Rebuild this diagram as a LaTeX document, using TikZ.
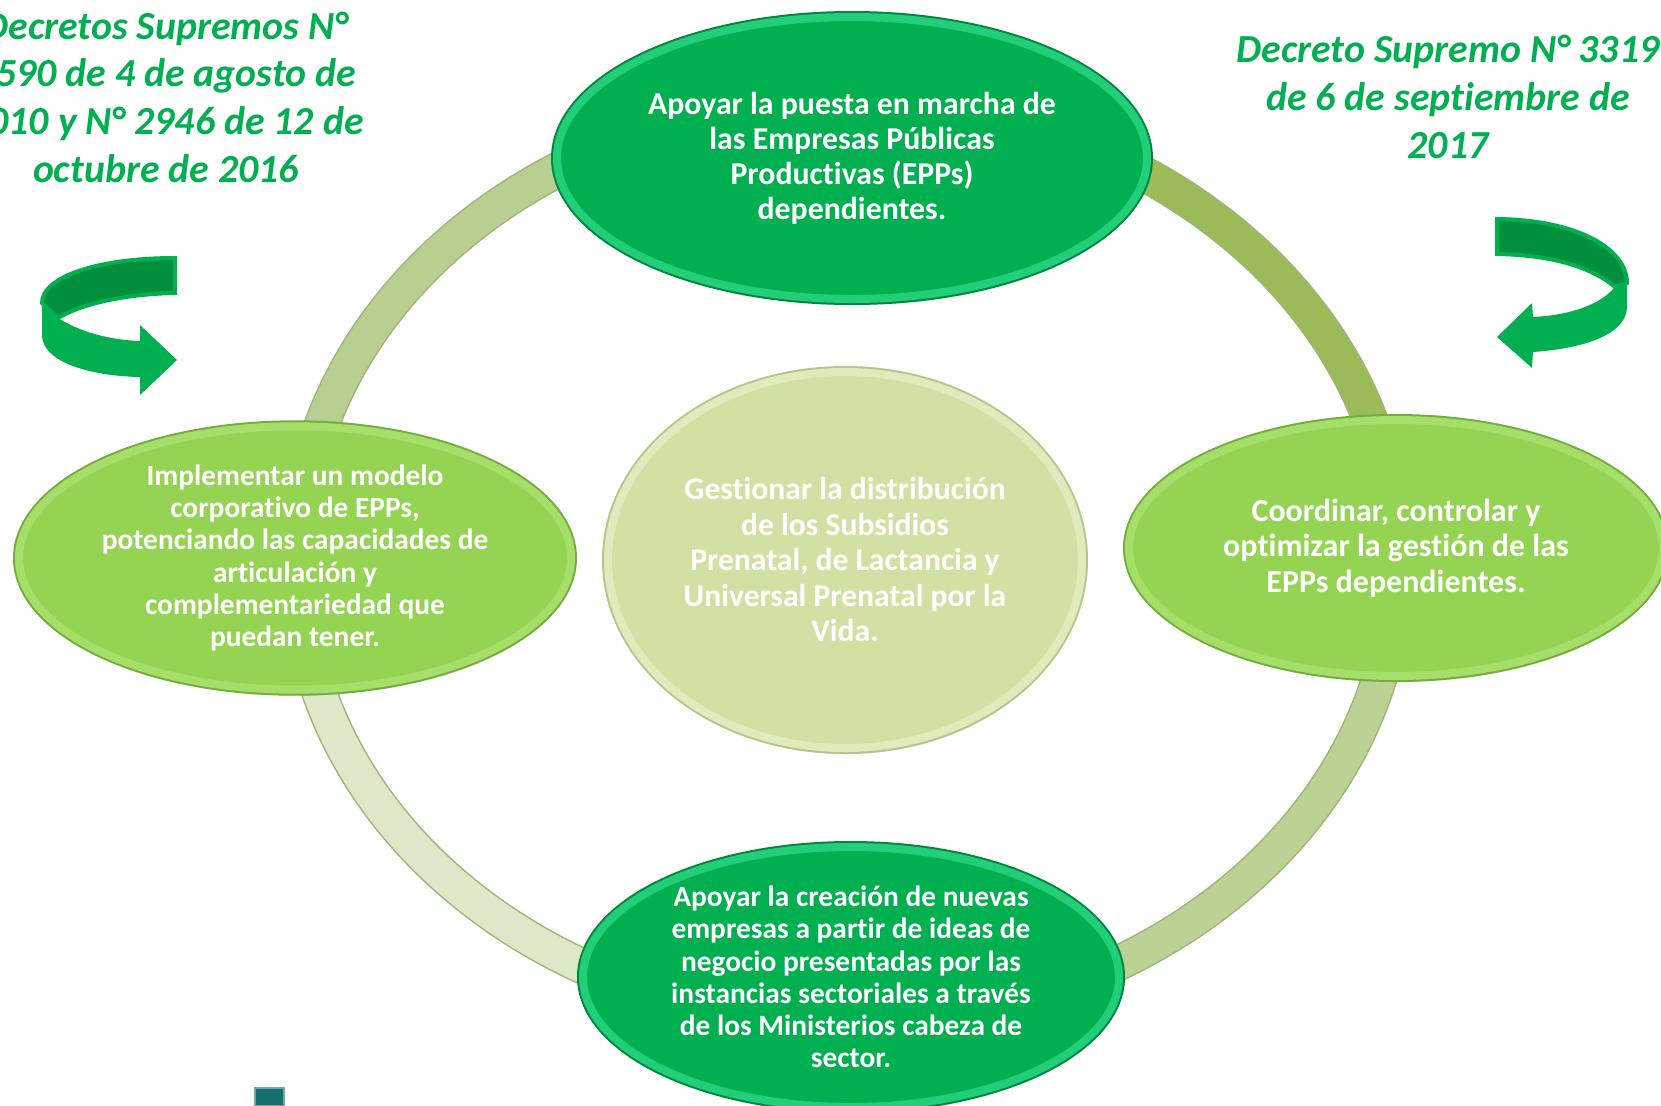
\documentclass[tikz,border=0pt]{standalone}
\usepackage{fontspec}
\setmainfont{Carlito}[Ligatures=NoCommon]
\usetikzlibrary{shapes.geometric,shadows}

\definecolor{epgreen}{HTML}{00B050}
\definecolor{epdark}{HTML}{00873D}
\definecolor{eprim}{HTML}{22CF78}
\definecolor{lime}{HTML}{94D452}
\definecolor{limedark}{HTML}{73AE3C}
\definecolor{limerim}{HTML}{A6DE6A}
\definecolor{sage}{HTML}{D0E1A3}
\definecolor{sagedark}{HTML}{B3C788}
\definecolor{sagerim}{HTML}{DEEBBD}
\definecolor{ringUL}{HTML}{B9CF91}
\definecolor{ringUR}{HTML}{9BBB59}
\definecolor{ringLR}{HTML}{BCD194}
\definecolor{ringLL}{HTML}{DDE8C9}
\definecolor{ringedge}{HTML}{9DB575}
\definecolor{backstrip}{HTML}{008F3D}
\definecolor{sqteal}{HTML}{13706D}

\begin{document}
\begin{tikzpicture}[x=0.5pt,y=-0.5pt,
    goal node/.style={ellipse,inner sep=0pt,align=center,text=white,
      drop shadow={shadow xshift=1pt,shadow yshift=-3pt,opacity=0.25}},
    dark node/.style={goal node,fill=epgreen,draw=eprim,line width=4pt,
      preaction={draw=epdark,line width=6pt}},
    light node/.style={goal node,fill=lime,draw=limerim,line width=4pt,
      preaction={draw=limedark,line width=6pt}},
    hub node/.style={goal node,fill=sage,draw=sagerim,line width=4pt,
      preaction={draw=sagedark,line width=6pt}},
    decree/.style={align=center,text=epgreen,inner sep=0pt,
      font=\fontsize{19.9}{23.85}\selectfont\bfseries\itshape},
    ring arc/.style={line width=16.5pt,preaction={draw=ringedge,line width=18pt}}]
    \useasboundingbox (0,0) rectangle (1661,1105);
    \clip (0,0) rectangle (1661,1105);

    % ring behind the ellipses
    \coordinate (hub) at (847,562);
    \foreach \a/\c in {0/ringLR,90/ringLL,180/ringUL,270/ringUR}
      \draw[ring arc,\c] (hub) ++(\a:550 and 461) arc[start angle=\a,delta angle=90,x radius=550,y radius=461];

    % the five functions
    \node[dark node,minimum width=295pt,minimum height=141pt,font=\fontsize{15.9}{17.5}\selectfont\bfseries] (top) at (852,158)
      {Apoyar la puesta en marcha de\\las Empresas Públicas\\Productivas (EPPs)\\dependientes.};
    \node[light node,minimum width=276pt,minimum height=130pt,font=\fontsize{14.7}{16.1}\selectfont\bfseries] (left) at (295,558)
      {Implementar un modelo\\corporativo de EPPs,\\potenciando las capacidades de\\articulación y\\complementariedad que\\puedan tener.};
    \node[light node,minimum width=267pt,minimum height=128pt,font=\fontsize{16}{17.75}\selectfont\bfseries] (right) at (1396,548)
      {Coordinar, controlar y\\optimizar la gestión de las\\EPPs dependientes.};
    \node[dark node,minimum width=268pt,minimum height=130pt,font=\fontsize{14.7}{16.1}\selectfont\bfseries] (bottom) at (851,977)
      {Apoyar la creación de nuevas\\empresas a partir de ideas de\\negocio presentadas por las\\instancias sectoriales a través\\de los Ministerios cabeza de\\sector.};
    \node[hub node,minimum width=237pt,minimum height=188pt,font=\fontsize{15.8}{17.75}\selectfont\bfseries] (center) at (845,560)
      {Gestionar la distribución\\de los Subsidios\\Prenatal, de Lactancia y\\Universal Prenatal por la\\Vida.};

    % decrees
    \node[decree] (ds1) at (166,97) {Decretos Supremos N°\\0590 de 4 de agosto de\\2010 y N° 2946 de 12 de\\octubre de 2016};
    \node[decree] (ds2) at (1448,97) {Decreto Supremo N° 3319\\de 6 de septiembre de\\2017};

    % curved arrows
    \filldraw[fill=backstrip,draw=epgreen,line width=2pt] (175,258) .. controls (100,258) and (42,276) .. (42,303)
      -- (58,318) .. controls (85,302) and (130,294) .. (175,293) -- cycle;
    \fill[epgreen] (58,318) .. controls (80,332) and (110,340) .. (140,341) -- (140,325) -- (177,360) -- (140,395)
      -- (140,377) .. controls (90,376) and (42,362) .. (42,335) -- (42,303) -- cycle;
    \filldraw[fill=backstrip,draw=epgreen,line width=2pt] (1497,219) .. controls (1580,220) and (1627,250) .. (1627,283)
      -- (1615,287) .. controls (1590,266) and (1550,255) .. (1497,254) -- cycle;
    \fill[epgreen] (1615,287) .. controls (1600,305) and (1570,315) .. (1533,317) -- (1532,303) -- (1497,337) -- (1532,368)
      -- (1533,352) .. controls (1590,348) and (1627,332) .. (1627,307) -- (1627,283) -- cycle;

    % small square
    \filldraw[fill=sqteal,draw=sqteal!60!white,line width=1pt] (255,1088) rectangle (284,1106);
\end{tikzpicture}
\end{document}
